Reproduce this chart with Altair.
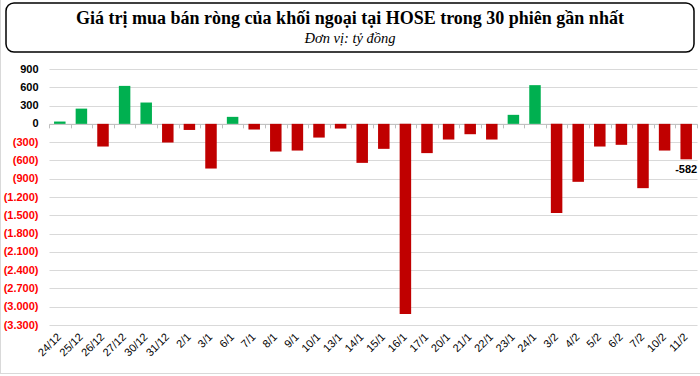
import altair as alt
import pandas as pd

dates = ["24/12", "25/12", "26/12", "27/12", "30/12", "31/12", "2/1", "3/1", "6/1", "7/1",
         "8/1", "9/1", "10/1", "13/1", "14/1", "15/1", "16/1", "17/1", "20/1", "21/1",
         "22/1", "23/1", "24/1", "3/2", "4/2", "5/2", "6/2", "7/2", "10/2", "11/2"]
values = [38, 250, -372, 623, 350, -306, -100, -733, 115, -93,
          -454, -438, -225, -77, -640, -410, -3120, -480, -257, -170,
          -257, 148, 635, -1464, -951, -372, -344, -1055, -438, -582]
label_dates = ["11/2"]
label_texts = ["-582"]
y_ticks = list(range(-3300, 901, 300))

title_text = "Giá trị mua bán ròng của khối ngoại tại HOSE trong 30 phiên gần nhất"
subtitle_text = "Đơn vị: tỷ đồng"

df = pd.DataFrame({"date": dates, "value": values})
lab = df[df["date"].isin(label_dates)].copy()
lab["text"] = label_texts
one = pd.DataFrame({"k": [0]})

W, H = 648, 256
ymin, ymax = -3300, 900
zero_offset = H * ymax / (ymax - ymin) - H

xscale = alt.Scale(paddingInner=0, paddingOuter=0)
yscale = alt.Scale(domain=[ymin, ymax], nice=False, zero=False)

label_expr = ("datum.value < 0 ? '(' + replace(format(-datum.value, ','), ',', '.') + ')' "
              ": format(datum.value, ',')")

y_axis = alt.Axis(title=None, values=y_ticks, labelExpr=label_expr,
                  labelColor={"condition": {"test": "datum.value < 0", "value": "#FF0000"},
                              "value": "#000000"},
                  labelFont="Liberation Sans", labelFontSize=11, labelFontWeight="bold",
                  grid=True, gridColor="#d9d9d9", gridWidth=1,
                  domain=False, ticks=False, labelPadding=11)

bars = alt.Chart(df).mark_bar(size=11.5).encode(
    x=alt.X("date:N", sort=dates, scale=xscale,
            axis=alt.Axis(title=None, orient="bottom", labelAngle=-45, labelAlign="right",
                          labelBaseline="middle", domain=False, ticks=False, grid=False,
                          labelPadding=10, labelFont="Liberation Sans", labelFontSize=11,
                          labelColor="#000000")),
    y=alt.Y("value:Q", scale=yscale, axis=y_axis),
    color=alt.condition("datum.value >= 0", alt.value("#00B050"), alt.value("#C00000")),
)

zero_axis = alt.Chart(df).mark_point(opacity=0).encode(
    x=alt.X("date:N", sort=dates, scale=xscale,
            axis=alt.Axis(title=None, orient="bottom", labels=False, domain=True,
                          domainColor="#bfbfbf", ticks=True, tickColor="#bfbfbf", tickSize=4,
                          tickBand="extent", grid=False, offset=zero_offset)),
    y=alt.Y("value:Q", scale=yscale, axis=y_axis),
)

labels = alt.Chart(lab).mark_text(
    baseline="top", dy=5, fontWeight="bold", fontSize=11, font="Liberation Sans", color="#000000"
).encode(
    x=alt.X("date:N", sort=dates, scale=xscale, axis=None),
    y=alt.Y("value:Q", scale=yscale, axis=y_axis),
    text="text:N",
)

L, T = 49, 69
title_box = alt.Chart(one).mark_rect(
    fill="white", stroke="#000000", strokeWidth=1.5, cornerRadius=8
).encode(
    x=alt.value(6 - L), x2=alt.value(694 - L), y=alt.value(3 - T), y2=alt.value(52 - T)
)
title = alt.Chart(one).mark_text(
    font="Liberation Serif", fontSize=18, fontWeight="bold", color="#000000", align="center",
    baseline="alphabetic", text=title_text
).encode(x=alt.value(350 - L), y=alt.value(24 - T))
subtitle = alt.Chart(one).mark_text(
    font="Liberation Serif", fontSize=14.5, fontStyle="italic", color="#000000", align="center",
    baseline="alphabetic", text=subtitle_text
).encode(x=alt.value(350 - L), y=alt.value(43 - T))

left_border = alt.Chart(one).mark_rule(color="#d9d9d9", strokeWidth=1).encode(
    x=alt.value(0.5 - L), y=alt.value(0 - T), y2=alt.value(374 - T)
)
bottom_border = alt.Chart(one).mark_rule(color="#d9d9d9", strokeWidth=1).encode(
    x=alt.value(0 - L), x2=alt.value(700 - L), y=alt.value(373.5 - T)
)

chart = alt.layer(
    zero_axis, bars, labels, title_box, title, subtitle, left_border, bottom_border
).resolve_axis(x="independent").properties(
    width=W, height=H,
    autosize=alt.AutoSizeParams(type="none"),
    padding={"left": L, "top": T, "right": 700 - L - W, "bottom": 376 - T - H},
    background="white",
).configure_view(stroke=None)

chart.save("out.html", embed_options={"renderer": "svg", "actions": False})
